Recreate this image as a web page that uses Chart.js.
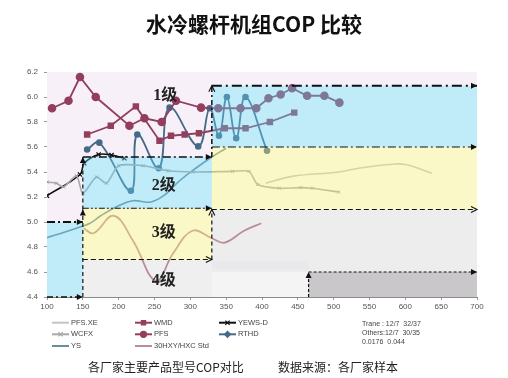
<!DOCTYPE html>
<html><head><meta charset="utf-8">
<script src="https://cdn.jsdelivr.net/npm/chart.js@4/dist/chart.umd.min.js"></script>
<style>html,body{margin:0;padding:0;background:#fff;}#wrap{width:508px;height:378px;position:relative;}</style>
</head><body><div id="wrap"><canvas id="c" width="508" height="378"></canvas></div>
<script>
// ---------- data ----------
const titleText = '水冷螺杆机组COP 比较';
const footerLeft = '各厂家主要产品型号COP对比';
const footerRight = '数据来源：各厂家样本';
const noteLines = ['Trane : 12/7  32/37', 'Others:12/7  30/35', '0.0176  0.044'];

const pfsX = [107,130,146,168,215,236,260,280,315,339,370,392,409,426,442,463,487,508];
const pfsY = [5.91,5.97,6.16,6.00,5.77,5.83,5.80,5.97,5.915,5.91,5.91,5.91,5.99,6.02,6.07,6.01,6.01,5.955];

const wmdX = [156,189,224,257,273,292,312,348,377,411,445];
const wmdY = [5.70,5.77,5.925,5.65,5.69,5.70,5.71,5.75,5.75,5.80,5.875];

const rthdX = [156,173,217,226,256,271,311,327,340,351,364,377,407];
const rthdY = [5.58,5.635,5.25,5.70,5.43,5.915,5.605,5.91,5.69,6.00,5.67,6.00,5.57];

const yewsX = [100,146,152,172,190,208];
const yewsY = [5.21,5.38,5.47,5.54,5.535,5.51];

const wcfxX = [100,113,123,141,150,169,183,200,234,269,304,359,382,394,424,454,470,507];
const wcfxY = [5.32,5.31,5.28,5.37,5.23,5.36,5.31,5.45,5.45,5.41,5.40,5.405,5.405,5.30,5.27,5.275,5.27,5.24];

const pfsxeX = [405,442,507,535,577,600,637];
const pfsxeY = [5.31,5.365,5.40,5.43,5.46,5.46,5.39];

const ysX = [100,125,146,160,175,200,220,245,265,285,310,330,350];
const ysY = [4.875,4.92,4.96,4.99,5.05,5.13,5.17,5.16,5.22,5.33,5.44,5.52,5.59];

const hxcX = [151,165,193,220,252,276,303,330,348,375,399];
const hxcY = [4.95,4.91,5.05,4.85,4.53,4.75,4.93,4.87,4.835,4.93,4.99];

const xTickMin = 100, xTickMax = 700, xTickStep = 50;
const yTickMin = 4.4, yTickMax = 6.2, yTickStep = 0.2;

// regions [x1,x2,y1,y2,colour]
const baseRegions = [
  [100,700,4.4,6.2,'#f8f0f8'],
  [100,150,4.4,5.0,'#ffffff'],
  [150,330,5.11,5.52,'#ffffff'],
  [330,700,5.6,6.09,'#ffffff'],
  [150,330,4.7,5.11,'#ffffff'],
  [330,700,5.1,5.6,'#ffffff'],
  [150,330,4.4,4.7,'#efeff0'],
  [330,700,4.6,5.1,'#ededee'],
  [330,465,4.4,4.6,'#f4f4f4'],
  [330,465,4.62,4.69,'#e9e9eb'],
  [465,700,4.4,4.6,'#c9c7ca']
];
const cyanRegions = [[100,150,4.4,5.0],[150,330,5.11,5.52],[330,700,5.6,6.09]];
const yellowRegions = [[150,330,4.7,5.11],[330,700,5.1,5.6]];

const guides = [
  {p:[[100,5.0],[150,5.0]], dash:[8,3,2,3], w:2, head:'fill'},
  {p:[[100,4.4],[150,4.4]], dash:[6,3,2,3], w:1.3, head:'fill'},
  {p:[[150,4.4],[150,5.1]], dash:[4,3], w:1.2, head:'fill'},
  {p:[[150,5.1],[150,5.52]], dash:[4,3], w:1.2, head:'fill'},
  {p:[[150,5.52],[330,5.52]], dash:[8,3,2,3], w:1.6, head:'fill'},
  {p:[[150,5.11],[330,5.11]], dash:[6,2,2,2,2,2], w:1.2, head:'fill'},
  {p:[[150,4.7],[330,4.7]], dash:[5,3], w:1.2, head:'open'},
  {p:[[330,5.52],[330,6.09]], dash:[5,3,2,3], w:1.5, head:'open'},
  {p:[[330,6.09],[700,6.09]], dash:[10,4,2,4], w:1.8, head:'fill'},
  {p:[[330,5.6],[700,5.6]], dash:[8,3,2,3], w:1.2, head:'fill'},
  {p:[[330,4.7],[330,5.1]], dash:[4,3], w:1.2, head:'open'},
  {p:[[330,5.1],[700,5.1]], dash:[5,3], w:1.2, head:'open'},
  {p:[[465,4.4],[465,4.6]], dash:[3,2], w:1.2, head:'fill'},
  {p:[[465,4.6],[700,4.6]], dash:[3,2], w:1.2, head:'fill'}
];

const levelLabels = ['1级','2级','3级','4级'];
const levelX = [265,263,263,263];
const levelY = [6.01,5.29,4.91,4.53];

// ---------- build ----------
const zip = (xs, ys) => xs.map((x, i) => ({x, y: ys[i]}));
const maroon = '#923e5c';

const datasets = [
  {label:'PFS.XE', data:zip(pfsxeX,pfsxeY), borderColor:'#c4c4c4', borderWidth:1.6, pointRadius:0, tension:0.4, lg:{col:0,row:0,style:false}},
  {label:'WCFX', data:zip(wcfxX,wcfxY), borderColor:'#a9a9a9', borderWidth:1.6, pointStyle:'crossRot', pointRadius:2.2, pointBorderColor:'#a0a0a0', pointBorderWidth:1, tension:0.25, lg:{col:0,row:1,style:'crossRot'}},
  {label:'YS', data:zip(ysX,ysY), borderColor:'#6a8c9c', borderWidth:1.6, pointRadius:0, tension:0.4, lg:{col:0,row:2,style:'line'}},
  {label:'WMD', data:zip(wmdX,wmdY), borderColor:maroon, backgroundColor:maroon, borderWidth:1.8, pointStyle:'rect', pointRadius:3.3, tension:0, lg:{col:1,row:0,style:'rect'}},
  {label:'PFS', data:zip(pfsX,pfsY), borderColor:maroon, backgroundColor:maroon, borderWidth:1.8, pointStyle:'circle', pointRadius:3.4, tension:0, lg:{col:1,row:1,style:'circle'}},
  {label:'30HXY/HXC Std', data:zip(hxcX,hxcY), borderColor:'#b88e98', borderWidth:1.8, pointRadius:0, tension:0.4, lg:{col:1,row:2,style:false}},
  {label:'YEWS-D', data:zip(yewsX,yewsY), borderColor:'#111', backgroundColor:'#111', borderWidth:1.6, pointStyle:'crossRot', pointRadius:3, pointBorderWidth:1.3, tension:0.4, lg:{col:2,row:0,style:'crossRot'}},
  {label:'RTHD', data:zip(rthdX,rthdY), borderColor:'#456a88', backgroundColor:'#456a88', borderWidth:1.8, pointStyle:'circle', pointRadius:2.4, tension:0.4, lg:{col:2,row:1,style:'rectRot'}}
];

function arrowHead(ctx, x1, y1, x2, y2, type){
  const a = Math.atan2(y2-y1, x2-x1), L = 6, W = 3;
  ctx.save();
  ctx.setLineDash([]);
  ctx.beginPath();
  ctx.moveTo(x2 - L*Math.cos(a) + W*Math.sin(a), y2 - L*Math.sin(a) - W*Math.cos(a));
  ctx.lineTo(x2, y2);
  ctx.lineTo(x2 - L*Math.cos(a) - W*Math.sin(a), y2 - L*Math.sin(a) + W*Math.cos(a));
  if (type === 'fill') { ctx.closePath(); ctx.fill(); } else { ctx.lineWidth = 1.1; ctx.stroke(); }
  ctx.restore();
}

function rectOf(sx, sy, r){
  const x1 = sx.getPixelForValue(r[0]), x2 = sx.getPixelForValue(r[1]);
  const y1 = sy.getPixelForValue(r[3]), y2 = sy.getPixelForValue(r[2]);
  return [x1, y1, x2-x1, y2-y1];
}

const regionPlugin = {
  id:'regions',
  beforeDatasetsDraw(chart){
    const {ctx, scales:{x:sx, y:sy}} = chart;
    ctx.save();
    baseRegions.forEach(r => { ctx.fillStyle = r[4]; ctx.fillRect(...rectOf(sx, sy, r)); });
    ctx.restore();
  },
  afterDatasetsDraw(chart){
    const {ctx, scales:{x:sx, y:sy}} = chart;
    ctx.save();
    ctx.fillStyle = 'rgba(97,207,242,0.4)';
    cyanRegions.forEach(r => ctx.fillRect(...rectOf(sx, sy, r)));
    ctx.fillStyle = 'rgba(245,237,117,0.4)';
    yellowRegions.forEach(r => ctx.fillRect(...rectOf(sx, sy, r)));
    ctx.strokeStyle = '#111'; ctx.fillStyle = '#111';
    guides.forEach(g => {
      const x1 = sx.getPixelForValue(g.p[0][0]), y1 = sy.getPixelForValue(g.p[0][1]);
      const x2 = sx.getPixelForValue(g.p[1][0]), y2 = sy.getPixelForValue(g.p[1][1]);
      ctx.lineWidth = g.w; ctx.setLineDash(g.dash);
      ctx.beginPath(); ctx.moveTo(x1, y1); ctx.lineTo(x2, y2); ctx.stroke();
      arrowHead(ctx, x1, y1, x2, y2, g.head);
    });
    ctx.setLineDash([]);
    ctx.font = "bold 16px 'Liberation Serif','Noto Sans CJK SC'";
    ctx.fillStyle = '#222'; ctx.textAlign = 'center'; ctx.textBaseline = 'middle';
    levelLabels.forEach((t, i) => ctx.fillText(t, sx.getPixelForValue(levelX[i]), sy.getPixelForValue(levelY[i])));
    ctx.restore();
  },
  afterDraw(chart){
    const ctx = chart.ctx;
    ctx.save();
    ctx.fillStyle = '#111';
    ctx.textAlign = 'center'; ctx.textBaseline = 'middle';
    ctx.font = "bold 21px 'Noto Sans CJK SC'";
    ctx.fillText(titleText, 254, 24);
    ctx.font = "12px 'Noto Sans CJK SC'";
    ctx.fillStyle = '#222';
    ctx.textAlign = 'left';
    ctx.fillText(footerLeft, 88, 367);
    ctx.fillText(footerRight, 278, 367);
    // legend
    const colX = [52, 135, 219], rowY = [322.7, 334.3, 346];
    ctx.font = "7.5px 'Liberation Sans'";
    chart.data.datasets.forEach(ds => {
      const lx = colX[ds.lg.col], ly = rowY[ds.lg.row];
      ctx.strokeStyle = ds.borderColor; ctx.lineWidth = 2; ctx.setLineDash([]);
      ctx.beginPath(); ctx.moveTo(lx, ly); ctx.lineTo(lx+17, ly); ctx.stroke();
      if (ds.lg.style && ds.lg.style !== 'line') {
        ctx.fillStyle = ds.borderColor; ctx.lineWidth = 1.2;
        Chart.helpers.drawPoint(ctx, {pointStyle: ds.lg.style, radius: 3, rotation: 0, borderWidth: 1.2}, lx+8.5, ly);
      }
      ctx.fillStyle = '#444';
      ctx.fillText(ds.label, lx+19, ly);
    });
    ctx.font = "7px 'Liberation Sans'";
    ctx.fillStyle = '#444';
    noteLines.forEach((t, i) => ctx.fillText(t, 362, 324 + i*9));
    ctx.restore();
  }
};

new Chart(document.getElementById('c'), {
  type:'line',
  data:{datasets},
  options:{
    responsive:false, animation:false,
    layout:{padding:{left:0, right:31, top:72, bottom:59}},
    plugins:{legend:{display:false}, tooltip:{enabled:false}, title:{display:false}},
    elements:{line:{fill:false}},
    scales:{
      x:{type:'linear', min:xTickMin, max:xTickMax,
         ticks:{stepSize:xTickStep, font:{family:'Liberation Sans', size:8}, color:'#555', padding:2, maxRotation:0},
         grid:{display:true, drawOnChartArea:false, tickLength:3, color:'#999'},
         border:{color:'#8a8a8a', width:1},
         afterFit(s){ s.height = 22; }},
      y:{type:'linear', min:yTickMin, max:yTickMax,
         ticks:{stepSize:yTickStep, font:{family:'Liberation Sans', size:8}, color:'#555', padding:6,
                callback:v => v.toFixed(1)},
         grid:{display:true, drawOnChartArea:false, tickLength:3, color:'#999'},
         border:{color:'#8a8a8a', width:1},
         afterFit(s){ s.width = 47; }}
    }
  },
  plugins:[regionPlugin]
});
</script></body></html>
